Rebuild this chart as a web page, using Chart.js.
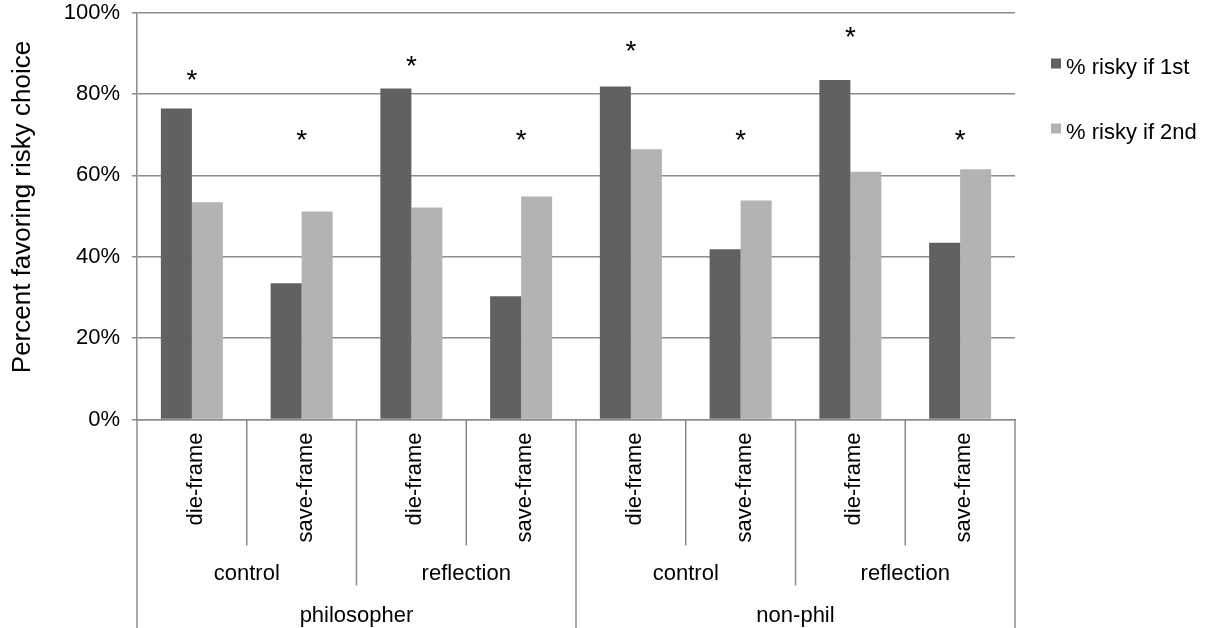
<!DOCTYPE html>
<html>
<head>
<meta charset="utf-8">
<script src="https://cdn.jsdelivr.net/npm/chart.js@4/dist/chart.umd.min.js"></script>
<style>
  html, body { margin: 0; padding: 0; background: #ffffff; }
  #wrap { width: 1206px; height: 628px; }
</style>
</head>
<body>
<div id="wrap"><canvas id="chart" width="1206" height="628"></canvas></div>
<script>
// Innermost category level (one bar pair each)
const frames = ['die-frame', 'save-frame', 'die-frame', 'save-frame',
                'die-frame', 'save-frame', 'die-frame', 'save-frame'];
// Middle level: condition, two frames each
const conditions = ['control', 'reflection', 'control', 'reflection'];
// Outer level: participant group, two conditions each
const groups = ['philosopher', 'non-phil'];

const seriesNames = ['% risky if 1st', '% risky if 2nd'];
const riskyFirst  = [76.4, 33.5, 81.3, 30.3, 81.8, 41.8, 83.4, 43.4];
const riskySecond = [53.4, 51.1, 52.1, 54.8, 66.4, 53.8, 60.9, 61.5];
// Height (in %) at which each significance asterisk sits
const starLevels  = [84.2, 69.5, 87.7, 69.5, 91.4, 69.5, 94.7, 69.5];

const yTicks = [0, 20, 40, 60, 80, 100];
const yTitle = 'Percent favoring risky choice';

const FONT = '"Liberation Sans", Arial, Helvetica, sans-serif';
const LINE = '#8c8c8c';
const DARK = '#616161';
const LIGHT = '#b3b3b3';

Chart.defaults.font.family = FONT;
Chart.defaults.color = '#000000';

// Three-level category axis drawn below the plot
const nestedAxis = {
  id: 'nestedAxis',
  afterDraw(chart) {
    const { ctx, chartArea: a } = chart;
    const xs = chart.scales.x;
    const n = frames.length;
    const step = (a.right - a.left) / n;
    const base = a.bottom;
    const bottom = chart.height;
    ctx.save();
    ctx.strokeStyle = LINE;
    ctx.lineWidth = 1.5;
    for (let i = 0; i <= n; i++) {
      const bx = a.left + i * step;
      let end;
      if (i % 4 === 0) end = bottom;
      else if (i % 2 === 0) end = base + 166;
      else end = base + 126;
      ctx.beginPath();
      ctx.moveTo(bx, base);
      ctx.lineTo(bx, end);
      ctx.stroke();
    }
    ctx.fillStyle = '#000000';
    ctx.font = '22px ' + FONT;
    frames.forEach((f, i) => {
      const cx = xs.getPixelForValue(i);
      ctx.save();
      ctx.translate(cx + 4, base + 13);
      ctx.rotate(-Math.PI / 2);
      ctx.textAlign = 'right';
      ctx.textBaseline = 'middle';
      ctx.fillText(f, 0, 0);
      ctx.restore();
    });
    ctx.textAlign = 'center';
    ctx.textBaseline = 'alphabetic';
    conditions.forEach((c, j) => {
      ctx.fillText(c, a.left + (j * 2 + 1) * step, base + 160);
    });
    groups.forEach((g, k) => {
      ctx.fillText(g, a.left + (k * 4 + 2) * step, base + 202);
    });
    ctx.restore();
  }
};

// Rotated value-axis title at the far left
const valueTitle = {
  id: 'valueTitle',
  afterDraw(chart) {
    const { ctx } = chart;
    ctx.save();
    ctx.fillStyle = '#000000';
    ctx.font = '26px ' + FONT;
    ctx.translate(23, 207);
    ctx.rotate(-Math.PI / 2);
    ctx.textAlign = 'center';
    ctx.textBaseline = 'middle';
    ctx.fillText(yTitle, 0, 0);
    ctx.restore();
  }
};

// Significance asterisks above each bar pair
const asterisks = {
  id: 'asterisks',
  afterDatasetsDraw(chart) {
    const { ctx } = chart;
    const xs = chart.scales.x, ys = chart.scales.y;
    ctx.save();
    ctx.fillStyle = '#000000';
    ctx.font = '28px ' + FONT;
    ctx.textAlign = 'center';
    ctx.textBaseline = 'alphabetic';
    starLevels.forEach((v, i) => {
      ctx.fillText('*', xs.getPixelForValue(i), ys.getPixelForValue(v) + 12);
    });
    ctx.restore();
  }
};

// Legend to the right of the plot
const sideLegend = {
  id: 'sideLegend',
  afterDraw(chart) {
    const { ctx, chartArea: a } = chart;
    ctx.save();
    ctx.font = '22px ' + FONT;
    ctx.textAlign = 'left';
    ctx.textBaseline = 'alphabetic';
    chart.data.datasets.forEach((ds, i) => {
      const y = a.top + 61 + i * 65;
      ctx.fillStyle = ds.backgroundColor;
      ctx.fillRect(a.right + 36, y - 15, 10, 10);
      ctx.fillStyle = '#000000';
      ctx.fillText(ds.label, a.right + 51, y);
    });
    ctx.restore();
  }
};

new Chart(document.getElementById('chart'), {
  type: 'bar',
  data: {
    labels: frames,
    datasets: [
      { label: seriesNames[0], data: riskyFirst, backgroundColor: DARK,
        categoryPercentage: 0.565, barPercentage: 1.0 },
      { label: seriesNames[1], data: riskySecond, backgroundColor: LIGHT,
        categoryPercentage: 0.565, barPercentage: 1.0 }
    ]
  },
  options: {
    responsive: false,
    animation: false,
    devicePixelRatio: 1,
    layout: { padding: { top: 12.5, right: 191, bottom: 0, left: 0 } },
    plugins: {
      legend: { display: false },
      tooltip: { enabled: false }
    },
    scales: {
      x: {
        grid: { display: false },
        border: { display: true, color: LINE, width: 1.5 },
        ticks: { display: false },
        afterFit(s) { s.height = 208.5; }
      },
      y: {
        min: 0,
        max: 100,
        afterBuildTicks(s) { s.ticks = yTicks.map(v => ({ value: v })); },
        ticks: {
          padding: 12,
          font: { size: 22 },
          color: '#000000',
          callback: v => v + '%'
        },
        grid: { color: LINE, lineWidth: 1.5, tickLength: 5 },
        border: { display: true, color: LINE, width: 1.5 },
        afterFit(s) {
          s.width = 137;
          s.paddingTop = 0;
          s.paddingBottom = 0;
        }
      }
    }
  },
  plugins: [nestedAxis, valueTitle, asterisks, sideLegend]
});
</script>
</body>
</html>
